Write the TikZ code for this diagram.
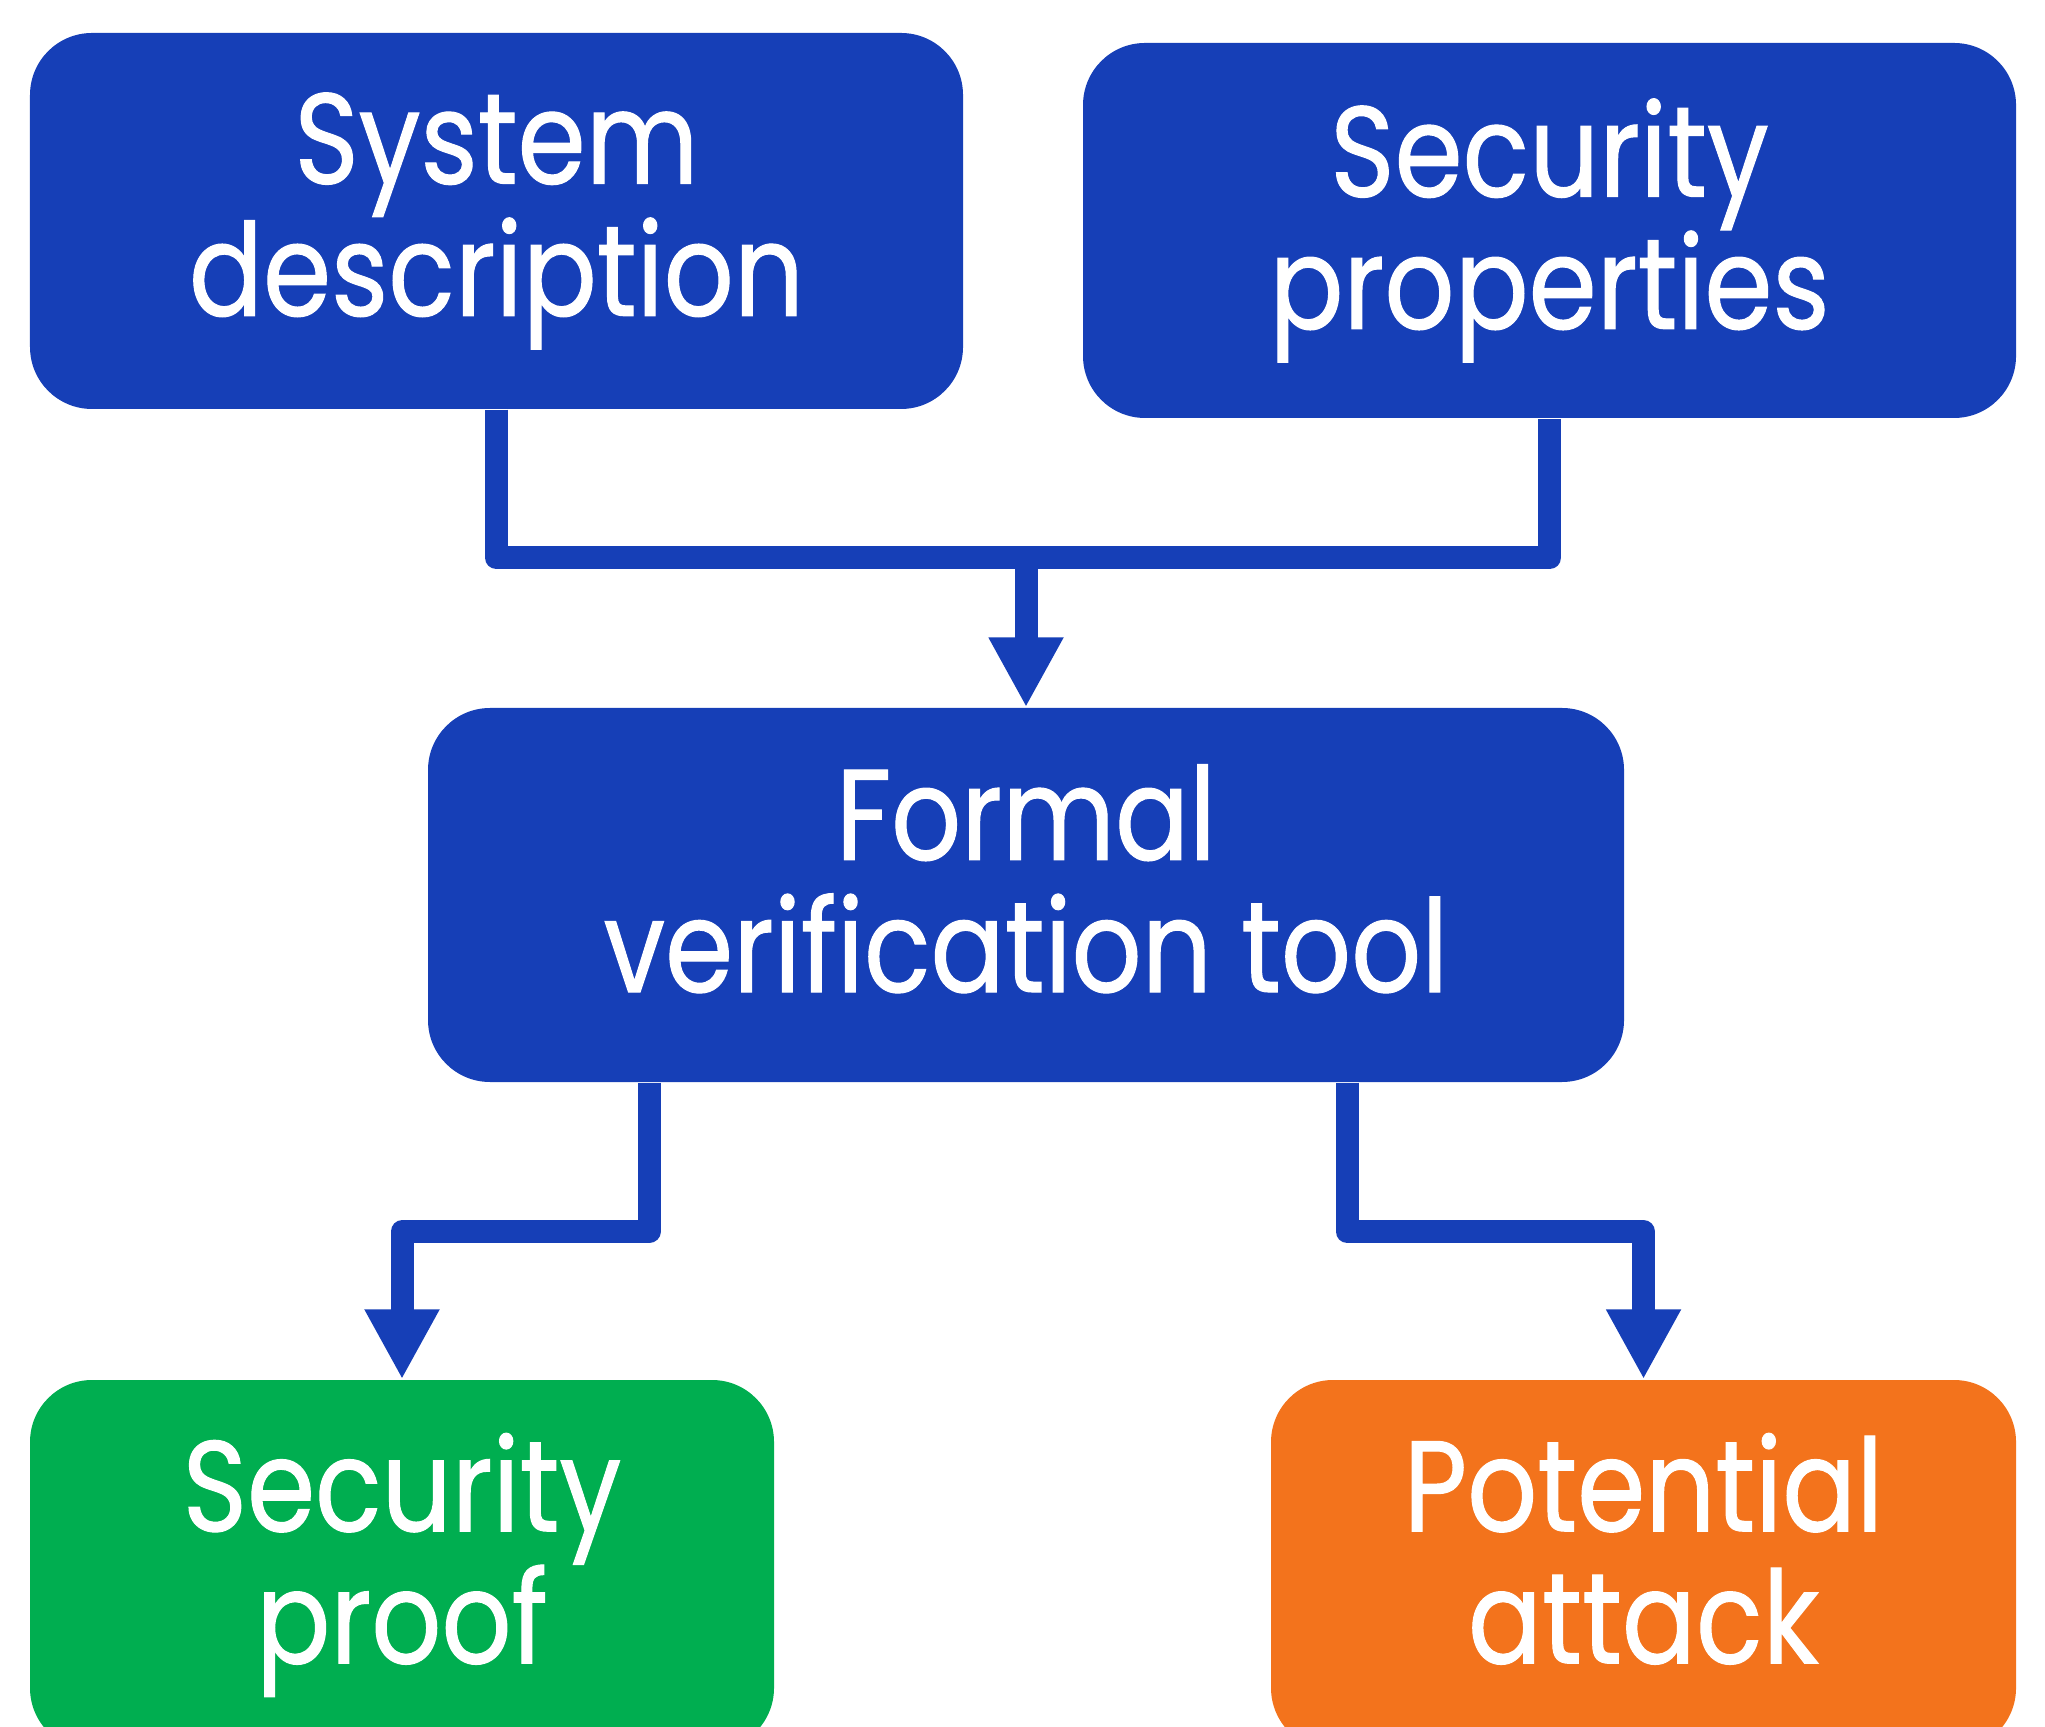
\documentclass[tikz,border=0pt]{standalone}
\usepackage{fontspec}
\setmainfont[FakeStretch=0.85, FakeBold=0.8]{Poppins}
\usetikzlibrary{arrows.meta}
\definecolor{boxblue}{RGB}{22,63,183}
\definecolor{boxgreen}{RGB}{0,174,80}
\definecolor{boxorange}{RGB}{243,115,28}
\tikzset{
  box/.style={rectangle, rounded corners=0.62cm, inner sep=0pt, align=center,
    text=white, font=\fontsize{36.7pt}{37.6pt}\selectfont},
  conn/.style={draw=boxblue, line width=0.23cm, line join=round},
  arr/.style={conn, -{Triangle[width=0.7cm,length=0.7cm]}}
}
\begin{document}
\begin{tikzpicture}
\clip (0,0) rectangle (20.45,17.26);
\useasboundingbox (0,0) rectangle (20.45,17.26);
\node[box, fill=boxblue, minimum width=9.33cm, minimum height=3.76cm] (sd) at (4.965,15.05) {System\\description};
\node[box, fill=boxblue, minimum width=9.33cm, minimum height=3.75cm] (sp) at (15.495,14.955) {Security\\properties};
\node[box, fill=boxblue, minimum width=11.96cm, minimum height=3.74cm] (fvt) at (10.26,8.31) {Formal\\verification tool\vphantom{p}};
\node[box, fill=boxgreen, minimum width=7.44cm, minimum height=3.70cm] (spr) at (4.02,1.61) {Security\\proof};
\node[box, fill=boxorange, minimum width=7.45cm, minimum height=3.70cm] (pa) at (16.435,1.61) {Potential\\attack\vphantom{p}};
\coordinate (join) at (fvt.north |- 0,11.68);
\draw[conn] (sd.south) |- (join) -| (sp.south);
\draw[arr] (join) -- (fvt.north);
\draw[arr] ([xshift=-3.77cm]fvt.south) -- ++(0,-1.49) -| (spr.north);
\draw[arr] ([xshift=3.21cm]fvt.south) -- ++(0,-1.49) -| (pa.north);
\end{tikzpicture}
\end{document}
